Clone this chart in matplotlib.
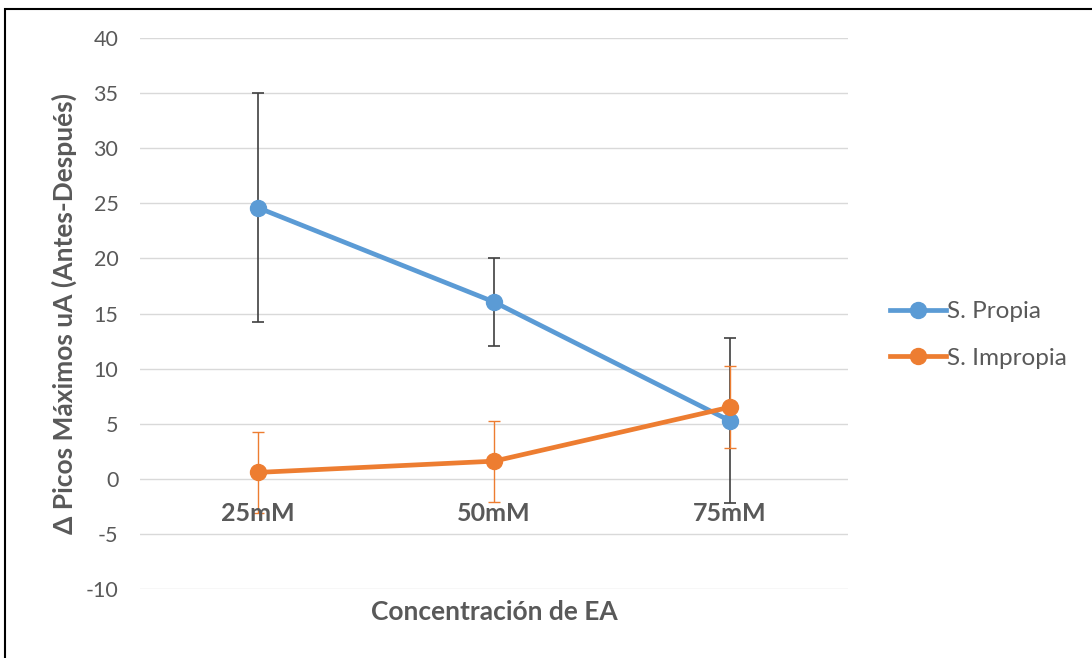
import matplotlib
matplotlib.use("Agg")
import matplotlib.pyplot as plt
from matplotlib.lines import Line2D
from matplotlib.patches import Rectangle

categories = ["25mM", "50mM", "75mM"]
propia = [24.6, 16.05, 5.26]
propia_err = [10.4, 4.0, 7.5]
impropia = [0.58, 1.6, 6.5]
impropia_err = [3.65, 3.66, 3.7]
yticks = [-10, -5, 0, 5, 10, 15, 20, 25, 30, 35, 40]

blue = "#5B9BD5"
orange = "#ED7D31"
gray_text = "#595959"
font = ["Lato", "DejaVu Sans"]
plt.rcParams["font.family"] = font

W, H = 1092, 658
fig = plt.figure(figsize=(W / 100, H / 100), dpi=100)
ax = fig.add_axes([140 / W, 1 - 589 / H, (848 - 140) / W, (589 - 38) / H])

x = list(range(len(categories)))
ax.errorbar(x, propia, yerr=propia_err, fmt="none", ecolor="#404040",
            elinewidth=1.2, capsize=4.5, capthick=1.2, zorder=3)
ax.errorbar(x, impropia, yerr=impropia_err, fmt="none", ecolor=orange,
            elinewidth=1.0, capsize=4.5, capthick=1.0, zorder=3)
ax.plot(x, propia, color=blue, lw=3.4, marker="o", ms=11.5, zorder=4,
        solid_capstyle="round")
ax.plot(x, impropia, color=orange, lw=3.4, marker="o", ms=11.5, zorder=5,
        solid_capstyle="round")

ax.set_xlim(-0.5, len(categories) - 0.5)
ax.set_ylim(-10, 40)
ax.set_yticks(yticks)
ax.set_yticklabels([str(v) for v in yticks])
ax.yaxis.grid(True, color="#D9D9D9", lw=1)
ax.set_axisbelow(True)
for s in ax.spines.values():
    s.set_visible(False)
ax.tick_params(axis="y", length=0, pad=15.5, labelsize=15.5, labelcolor=gray_text)
ax.set_xticks([])
for xi, lab in zip(x, categories):
    ax.annotate(lab, (xi, 0), xytext=(0, -25), textcoords="offset points",
                ha="center", va="center", fontsize=18, fontweight="bold",
                color=gray_text)

fig.text(494 / W, 1 - 612 / H, "Concentración de EA", ha="center", va="center",
         fontsize=19, fontweight="bold", color=gray_text)
fig.text(64 / W, 1 - 313 / H, "Δ Picos Máximos uA (Antes-Después)", ha="center",
         va="center", rotation=90, fontsize=19, fontweight="bold", color=gray_text)

handles = [Line2D([], [], color=blue, lw=3.4, marker="o", ms=11.5),
           Line2D([], [], color=orange, lw=3.4, marker="o", ms=11.5)]
fig.legend(handles, ["S. Propia", "S. Impropia"], loc="center left",
           bbox_to_anchor=(868 / W, 1 - 335 / H), frameon=False,
           fontsize=17.5, labelcolor=gray_text, handlelength=2.3,
           handletextpad=0.05, labelspacing=1.05)

fig.patches.append(Rectangle((4.5 / W, -0.1), 1.2, 1 - 8.5 / H + 0.1,
                             transform=fig.transFigure, fill=False,
                             edgecolor="black", lw=1.5))

fig.savefig("out.png", dpi=100)
